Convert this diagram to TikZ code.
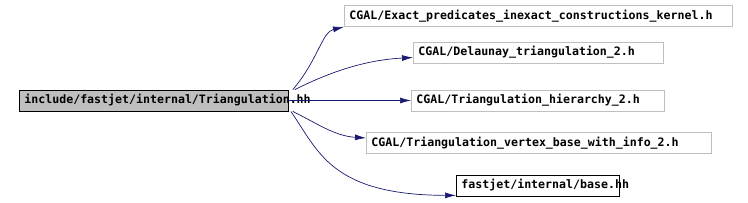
\documentclass[tikz,border=0pt]{standalone}
\usepackage{fontspec}
\setmonofont{DejaVu Sans Mono}
\usetikzlibrary{arrows.meta}
\definecolor{edgeblue}{HTML}{191970}
\definecolor{boxgrey}{HTML}{BFBFBF}

\begin{document}
\begin{tikzpicture}[
        x=1bp, y=-1bp,
        file/.style={draw, anchor=west, align=left, inner xsep=5bp, inner ysep=0pt,
          minimum height=21bp, text height=8.5bp, text depth=2.5bp, line width=0.8bp,
          font=\ttfamily\bfseries\fontsize{11.6bp}{13bp}\selectfont},
        extfile/.style={file, draw=boxgrey},
        dep/.style={-{Latex[length=11bp,width=6bp]}, edgeblue, line width=0.7bp}
      ]
        \useasboundingbox (0,0) rectangle (748,202);
        \node[file, fill=boxgrey, text width=259bp] (tri) at (19,100.5) {\mbox{include/fastjet/internal/Triangulation.hh}};
        \node[extfile, text width=378bp] (kernel) at (344,16) {CGAL/Exact\_predicates\_inexact\_constructions\_kernel.h};
        \node[extfile, text width=240bp] (delaunay) at (413,52.5) {CGAL/Delaunay\_triangulation\_2.h};
        \node[extfile, text width=243bp] (hierarchy) at (411,100.5) {CGAL/Triangulation\_hierarchy\_2.h};
        \node[extfile, text width=335bp] (vertex) at (366,143) {CGAL/Triangulation\_vertex\_base\_with\_info\_2.h};
        \node[file, fill=white, text width=153bp] (base) at (456,185.5) {\mbox{fastjet/internal/base.hh}};
        \draw[dep] ([xshift=4bp]tri.north east) .. controls (318,60) and (322,32) .. (kernel.south west);
        \draw[dep] ([xshift=6bp]tri.north east) .. controls (330,72) and (365,60) .. ([yshift=-5bp]delaunay.west);
        \draw[dep] (tri.east) -- (hierarchy.west);
        \draw[dep] ([xshift=4bp]tri.south east) .. controls (318,124) and (335,136) .. ([yshift=5bp]vertex.west);
        \draw[dep] ([xshift=2bp]tri.south east) .. controls (318,150) and (330,195) .. ([yshift=1bp]base.south west);
      \end{tikzpicture}
\end{document}
